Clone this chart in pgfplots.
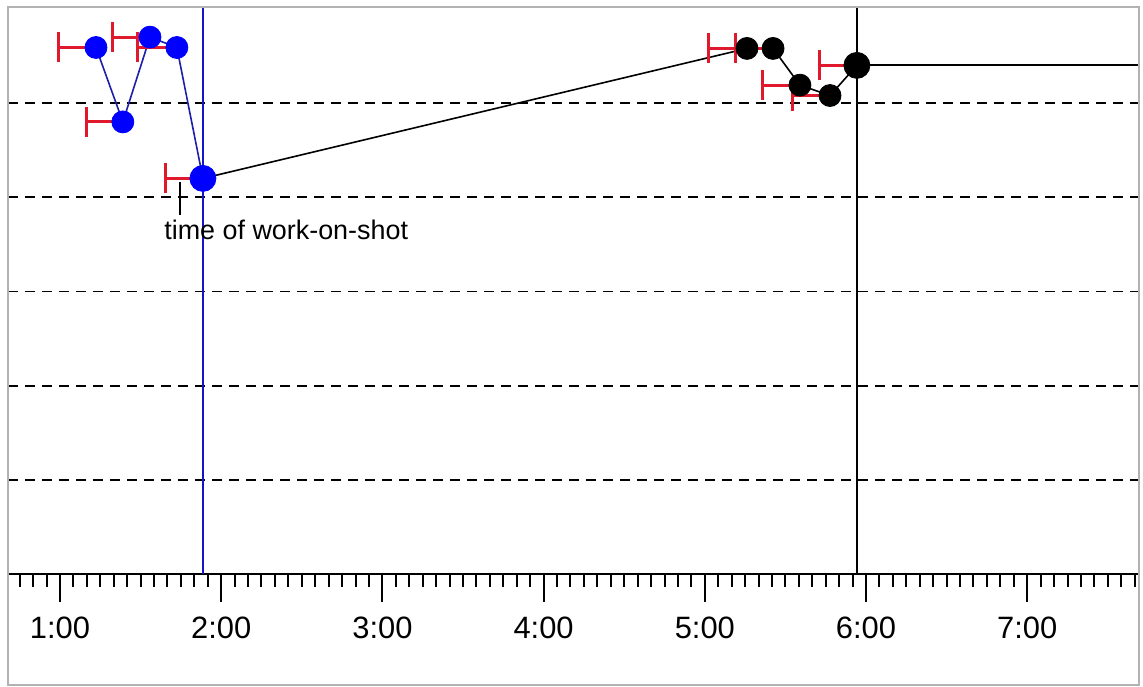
\documentclass[border=0pt]{standalone}
\usepackage{fontspec}
\setmainfont{Liberation Sans}
\usepackage{pgfplots}
\pgfplotsset{compat=1.18}
\definecolor{myred}{RGB}{225,25,45}
\definecolor{myblue}{RGB}{0,0,255}
\definecolor{bluel}{RGB}{30,30,170}
\definecolor{bluev}{RGB}{20,20,200}
\pgfplotsset{errstyle/.style={error bars/.cd, x dir=minus, x explicit,
  error bar style={myred, line width=1.5bp},
  error mark options={myred, line width=1.5bp, mark size=7.5bp, rotate=90}}}
\begin{document}
\begin{tikzpicture}
\begin{axis}[
  scale only axis, width=565.5bp, height=283.5bp,
  xmin=40.65, xmax=461.6, ymin=0, ymax=6.02,
  axis x line*=bottom, axis y line*=left,
  y axis line style={draw=none},
  x axis line style={black, line width=1bp},
  xtick={60,120,180,240,300,360,420},
  xticklabels={1:00,2:00,3:00,4:00,5:00,6:00,7:00},
  minor xtick={45,50,...,460},
  tick align=outside,
  major tick length=14bp, minor tick length=6.5bp,
  x tick style={black, line width=1bp},
  ytick={1,2,3,4,5}, yticklabels={},
  y tick style={draw=none},
  ymajorgrids,
  y grid style={black, line width=0.9bp, dash pattern=on 5bp off 3.5bp},
  xticklabel style={font=\fontsize{15.5}{18}\selectfont, anchor=base, yshift=-18.5bp},
  clip=false,
]
\coordinate (axSW) at (rel axis cs:0,0);
\coordinate (axNE) at (rel axis cs:1,1);
% vertical reference lines
\addplot[bluev, line width=1bp] coordinates {(113.2,0) (113.2,6.02)};
\addplot[black, line width=1bp] coordinates {(356.6,0) (356.6,6.02)};
% connecting lines
\addplot[bluel, line width=0.8bp] coordinates {(73.4,5.59) (83.4,4.80) (93.5,5.70) (103.5,5.59) (113.2,4.20)};
\addplot[black, line width=0.8bp] coordinates {(113.2,4.20) (315.7,5.58) (325.4,5.58) (335.4,5.19) (346.6,5.08) (356.6,5.40)};
\addplot[black, line width=1bp] coordinates {(356.6,5.40) (461.6,5.40)};
% work-on-shot marker
\addplot[black, line width=1bp] coordinates {(104.7,4.16) (104.7,3.81)};
\node[anchor=base west, inner sep=0pt, font=\fontsize{13.5}{16}\selectfont] at (axis cs:98.7,3.546) {time of work-on-shot};
% blue points
\addplot[only marks, mark=*, mark size=5.5bp, mark options={myblue, fill=myblue}, errstyle]
  coordinates {(73.4,5.59) +- (14.1,0) (83.4,4.80) +- (13.4,0) (93.5,5.70) +- (13.8,0) (103.5,5.59) +- (14.5,0)};
\addplot[only marks, mark=*, mark size=6.5bp, mark options={myblue, fill=myblue}, errstyle]
  coordinates {(113.2,4.20) +- (13.8,0)};
% black points
\addplot[only marks, mark=*, mark size=5.5bp, mark options={black, fill=black}, errstyle]
  coordinates {(315.7,5.58) +- (14.5,0) (325.4,5.58) +- (14.1,0) (335.4,5.19) +- (14.1,0) (346.6,5.08) +- (14.1,0)};
\addplot[only marks, mark=*, mark size=6.5bp, mark options={black, fill=black}, errstyle]
  coordinates {(356.6,5.40) +- (14.1,0)};
\end{axis}
\draw[gray!60, line width=1bp] ([yshift=-55.5bp]axSW) rectangle (axNE);
\pgfresetboundingbox
\path[use as bounding box] ([xshift=-4bp,yshift=-56.5bp]axSW) rectangle ([xshift=2bp,yshift=3.5bp]axNE);
\end{tikzpicture}
\end{document}
